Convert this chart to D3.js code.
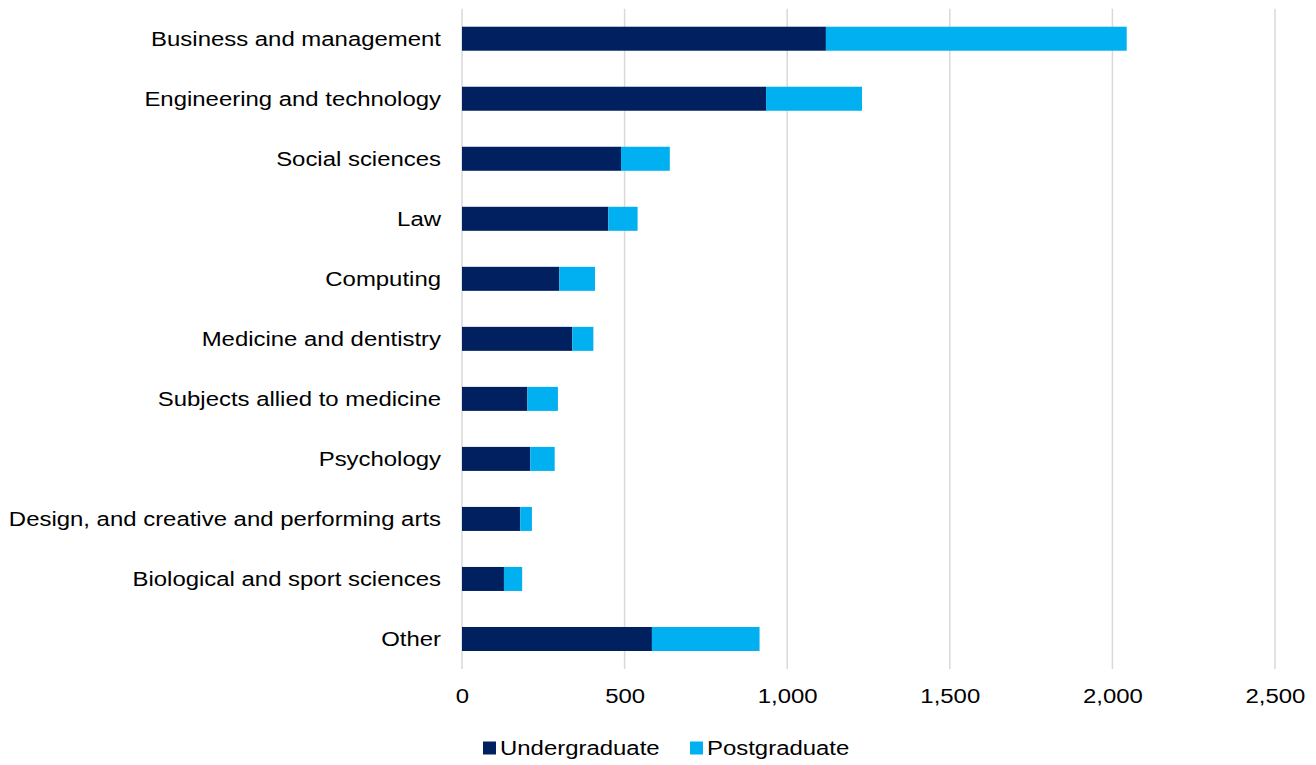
<!DOCTYPE html>
<html>
<head>
<meta charset="utf-8">
<script src="https://cdn.jsdelivr.net/npm/d3@7"></script>
<style>
  body { margin: 0; background: #fff; }
  text { font-family: "Liberation Sans", Arial, sans-serif; fill: #000; }
</style>
</head>
<body>
<div id="chart"></div>
<script>
var subjects = [
    "Business and management",
    "Engineering and technology",
    "Social sciences",
    "Law",
    "Computing",
    "Medicine and dentistry",
    "Subjects allied to medicine",
    "Psychology",
    "Design, and creative and performing arts",
    "Biological and sport sciences",
    "Other"
];
var undergraduate = [1119, 935, 489, 450, 299, 339, 201, 210, 179, 129, 584];
var postgraduate  = [925, 295, 150, 90, 110, 65, 94, 75, 36, 56, 331];
var series = ["Undergraduate", "Postgraduate"];
var colours = ["#002060", "#00b0f0"];
var xTicks = [0, 500, 1000, 1500, 2000, 2500];

var width = 1316, height = 765;
var margin = { top: 8.7, right: 41, bottom: 96, left: 462 };
var fontSize = 21, stretch = 1.14;   // text in the original is a bit wide

var svg = d3.select("#chart").append("svg")
    .attr("width", width)
    .attr("height", height);

var x = d3.scaleLinear()
    .domain([0, 2500])
    .range([margin.left, width - margin.right]);

var y = d3.scaleBand()
    .domain(subjects)
    .range([margin.top, height - margin.bottom])
    .paddingInner(0.6)
    .paddingOuter(0.3);

// gridlines
svg.append("g")
    .selectAll("line")
    .data(xTicks)
    .join("line")
    .attr("x1", function(d) { return x(d); })
    .attr("x2", function(d) { return x(d); })
    .attr("y1", margin.top)
    .attr("y2", height - margin.bottom)
    .attr("stroke", "#d9d9d9")
    .attr("stroke-width", 1.5);

// stacked bars
var rows = subjects.map(function(s, i) {
    return { subject: s, Undergraduate: undergraduate[i], Postgraduate: postgraduate[i] };
});
var stacked = d3.stack().keys(series)(rows);

svg.append("g")
    .selectAll("g")
    .data(stacked)
    .join("g")
    .attr("fill", function(d, i) { return colours[i]; })
    .selectAll("rect")
    .data(function(d) { return d; })
    .join("rect")
    .attr("x", function(d) { return x(d[0]); })
    .attr("width", function(d) { return x(d[1]) - x(d[0]); })
    .attr("y", function(d) { return y(d.data.subject); })
    .attr("height", y.bandwidth());

// category labels
svg.append("g")
    .selectAll("text")
    .data(subjects)
    .join("text")
    .attr("transform", function(d) {
        return "translate(" + (margin.left - 21) + "," + (y(d) + y.bandwidth() / 2) + ") scale(" + stretch + ",1)";
    })
    .attr("dy", "0.35em")
    .attr("text-anchor", "end")
    .attr("font-size", fontSize)
    .text(function(d) { return d; });

// x axis tick labels
var xAxis = d3.axisBottom(x)
    .tickValues(xTicks)
    .tickSize(0)
    .tickPadding(0)
    .tickFormat(d3.format(","));

var gx = svg.append("g")
    .attr("transform", "translate(0," + (height - margin.bottom + 27) + ")")
    .call(xAxis);
gx.select(".domain").remove();
gx.selectAll("text")
    .attr("font-size", fontSize)
    .attr("font-family", "Liberation Sans, Arial, sans-serif")
    .attr("fill", "#000")
    .attr("dy", "0.35em")
    .attr("y", 0)
    .attr("transform", "scale(" + stretch + ",1)");

// legend
var legendPos = [483, 690];
var legend = svg.append("g")
    .selectAll("g")
    .data(series)
    .join("g")
    .attr("transform", function(d, i) { return "translate(" + legendPos[i] + ",748)"; });

legend.append("rect")
    .attr("x", 0)
    .attr("y", -6.5)
    .attr("width", 13)
    .attr("height", 13)
    .attr("fill", function(d, i) { return colours[i]; });

legend.append("text")
    .attr("transform", "translate(17,0) scale(" + stretch + ",1)")
    .attr("dy", "0.35em")
    .attr("font-size", fontSize)
    .text(function(d) { return d; });
</script>
</body>
</html>
